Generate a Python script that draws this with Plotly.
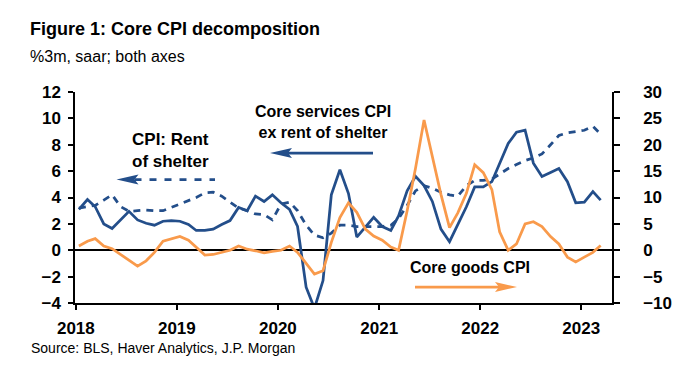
import plotly.graph_objects as go
import pandas as pd

# ---------------- data (monthly, Jan 2018 - Mar 2023) ----------------
start_month = "2018-01-01"
end_month = "2023-03-01"

core_services_ex_rent = [
    3.1, 3.85, 3.3, 2.0, 1.65, 2.3, 2.95, 2.3, 2.05, 1.9,
    2.2, 2.25, 2.2, 1.95, 1.5, 1.5, 1.6, 1.95, 2.25, 3.25,
    3.0, 4.1, 3.7, 4.2, 3.6, 3.1, 1.8, -2.8, -4.4, -2.3,
    4.2, 6.1, 4.3, 1.0, 1.8, 2.5, 1.8, 1.5, 2.6, 4.5,
    5.6, 4.9, 3.7, 1.6, 0.65, 1.9, 3.3, 4.8, 4.8, 5.2,
    6.6, 8.1, 8.95, 9.1, 6.6, 5.6, 5.9, 6.2, 5.2, 3.6,
    3.65, 4.45, 3.8,
]
rent_of_shelter = [
    3.2, 3.3, 3.4, 3.8, 4.2, 3.3, 2.95, 3.0, 3.05, 3.0,
    3.0, 3.25, 3.5, 3.75, 4.0, 4.35, 4.4, 4.1, 3.65, 3.2,
    3.0, 2.75, 2.7, 2.3, 3.5, 3.65, 3.0, 1.9, 1.15, 0.95,
    1.3, 1.9, 1.9, 1.8, 1.8, 1.8, 1.8, 1.9, 2.4, 3.4,
    4.5, 4.9, 4.7, 4.4, 4.2, 4.1, 4.9, 5.3, 5.3, 5.4,
    5.8, 6.2, 6.5, 6.8, 7.0, 7.3, 8.0, 8.7, 8.9, 9.0,
    9.1, 9.4, 8.8,
]
core_goods = [
    0.8, 1.7, 2.2, 0.8, 0.3, -0.8, -1.8, -3.0, -2.0, -0.4,
    1.7, 2.2, 2.6, 1.9, 0.6, -0.9, -0.8, -0.4, 0.0, 0.8,
    0.2, -0.1, -0.5, -0.2, 0.0, 0.8, -0.4, -2.5, -4.5, -3.9,
    1.5, 6.2, 9.0, 7.2, 4.0, 2.7, 1.9, 0.6, 0.0, 7.5,
    15.5, 24.7, 17.8, 10.6, 4.3, 7.1, 10.8, 16.2, 14.7, 11.5,
    3.5, 0.0, 1.2, 5.0, 5.4, 4.5, 2.6, 1.2, -1.3, -2.2,
    -1.3, -0.4, 0.9,
]
year_ticks = ["2018", "2019", "2020", "2021", "2022", "2023"]
left_ticks = [-4, -2, 0, 2, 4, 6, 8, 10, 12]
right_ticks = [-10, -5, 0, 5, 10, 15, 20, 25, 30]

dates = pd.date_range(start_month, end_month, freq="MS") + pd.Timedelta(days=11)

BLUE = "#234E8A"
ORANGE = "#F99A4B"
FONT = "Liberation Sans, Arial, sans-serif"

# page body has an 8px margin; figure is laid out in window pixels minus it
OFF = 8
W, H = 692 - OFF, 377 - OFF
PLOT_L, PLOT_R, PLOT_T, PLOT_B = 75, 612, 92, 303   # window pixels of plot area
L, T = PLOT_L - OFF, PLOT_T - OFF
PW, PH = PLOT_R - PLOT_L, PLOT_B - PLOT_T
R, B = W - L - PW, H - T - PH


def px(x):
    return (x - PLOT_L) / PW


def py(y):
    return (PLOT_B - y) / PH


fig = go.Figure()
fig.add_trace(go.Scatter(x=dates, y=rent_of_shelter, mode="lines",
                         line=dict(color=BLUE, width=2.75, dash="7px,6px"),
                         name="CPI: Rent of shelter"))
fig.add_trace(go.Scatter(x=dates, y=core_services_ex_rent, mode="lines",
                         line=dict(color=BLUE, width=2.75),
                         name="Core services CPI ex rent of shelter"))
fig.add_trace(go.Scatter(x=dates, y=core_goods, mode="lines", yaxis="y2",
                         line=dict(color=ORANGE, width=2.75),
                         name="Core goods CPI"))

tickfont = dict(family=FONT, size=17, color="black", weight="bold")

fig.update_layout(
    width=W, height=H,
    margin=dict(l=L, r=R, t=T, b=B, pad=0),
    paper_bgcolor="white", plot_bgcolor="white",
    showlegend=False,
    xaxis=dict(
        type="date", range=["2017-12-29", "2023-04-22"],
        tickvals=[f"{y}-01-01" for y in year_ticks], ticktext=year_ticks,
        showline=True, linecolor="black", linewidth=1.5,
        ticks="outside", ticklen=5, tickwidth=1.5, tickcolor="black",
        showgrid=False, zeroline=False, tickfont=tickfont,
        ticklabelstandoff=4,
    ),
    yaxis=dict(
        range=[-4, 12], tickvals=left_ticks,
        showline=True, linecolor="black", linewidth=1.5,
        ticks="outside", ticklen=5, tickwidth=1.5, tickcolor="black",
        showgrid=False, zeroline=True, zerolinecolor="black", zerolinewidth=2,
        tickfont=tickfont, ticklabelstandoff=4,
    ),
    yaxis2=dict(
        range=[-10, 30], tickvals=right_ticks, overlaying="y", side="right",
        showline=True, linecolor="black", linewidth=1.5,
        ticks="outside", ticklen=6, tickwidth=1.5, tickcolor="black",
        showgrid=False, zeroline=False, tickfont=tickfont,
        ticklabelstandoff=20,
    ),
)

ann = [
    dict(text="Figure 1: Core CPI decomposition", x=px(28), y=py(29),
         font=dict(family=FONT, size=18, color="black", weight="bold"),
         xanchor="left"),
    dict(text="%3m, saar; both axes", x=px(28), y=py(57),
         font=dict(family=FONT, size=16, color="black"), xanchor="left"),
    dict(text="Source: BLS, Haver Analytics, J.P. Morgan", x=px(29), y=py(348),
         font=dict(family=FONT, size=14, color="black"), xanchor="left"),
    dict(text="CPI: Rent<br>of shelter", x=px(170), y=py(150),
         font=dict(family=FONT, size=17, color="black", weight="bold"),
         xanchor="center"),
    dict(text="Core services CPI<br>ex rent of shelter", x=px(322.5), y=py(122),
         font=dict(family=FONT, size=16, color="black", weight="bold"),
         xanchor="center"),
    dict(text="Core goods CPI", x=px(469.5), y=py(267),
         font=dict(family=FONT, size=16, color="black", weight="bold"),
         xanchor="center"),
]
for a in ann:
    a.update(xref="paper", yref="paper", showarrow=False, yanchor="middle")
    fig.add_annotation(**a)


def arrow(x_tip, x_tail, y, color, dash, head_len=22, half_w=5):
    d = 1 if x_tail > x_tip else -1
    base = x_tip + d * head_len
    notch = x_tip + d * (head_len - 4)
    fig.add_shape(type="line", xref="paper", yref="paper",
                  x0=px(notch), y0=py(y), x1=px(x_tail), y1=py(y),
                  line=dict(color=color, width=2.75, dash=dash))
    fig.add_shape(type="path", xref="paper", yref="paper",
                  path=f"M {px(x_tip)},{py(y)} L {px(base)},{py(y - half_w)} "
                       f"L {px(notch)},{py(y)} L {px(base)},{py(y + half_w)} Z",
                  fillcolor=color, line=dict(color=color, width=0))


arrow(116.5, 215, 179.5, BLUE, "7px,8px")
arrow(270, 373, 153, BLUE, "solid")
arrow(517, 415, 287, ORANGE, "solid")

fig.write_html("out.html")
